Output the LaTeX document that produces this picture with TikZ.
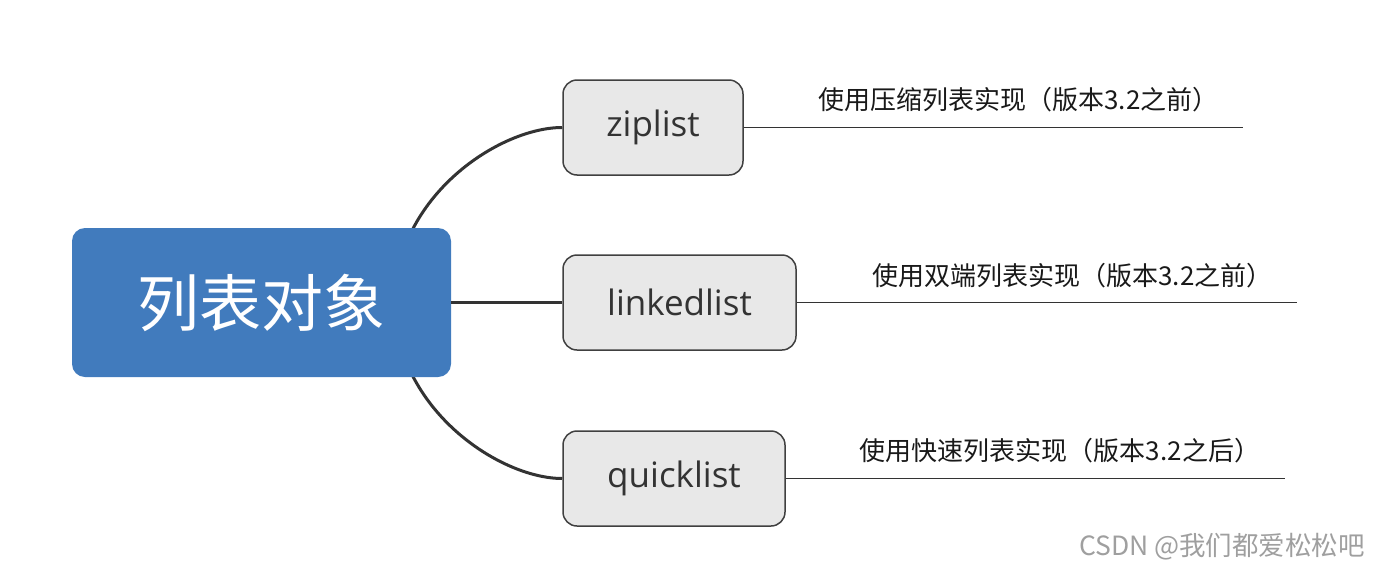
\documentclass[tikz,border=0pt]{standalone}
\usepackage{fontspec}
\setmainfont{Open Sans}
\newfontfamily\cjk{Noto Sans CJK SC}
\usetikzlibrary{backgrounds}
\definecolor{mainblue}{HTML}{417BBD}
\definecolor{boxgray}{HTML}{E8E8E8}
\definecolor{edgegray}{HTML}{404040}
\definecolor{linegray}{HTML}{333333}
\definecolor{textgray}{HTML}{333333}
\begin{document}
\begin{tikzpicture}[x=1pt,y=-1pt,
  rootbox/.style={fill=mainblue, rounded corners=13pt, minimum width=379pt, minimum height=149pt, inner sep=0pt, text=white, font=\cjk\fontsize{62}{70}\selectfont},
  subbox/.style={fill=boxgray, draw=edgegray, line width=1.5pt, rounded corners=14pt, minimum height=95pt, inner sep=0pt, font=\fontsize{35}{40}\selectfont, text=textgray},
  branch/.style={draw=linegray, line width=3pt},
  leaf/.style={draw=linegray, line width=1.9pt},
  note/.style={font=\cjk\fontsize{26}{30}\selectfont, text=black!90, inner sep=0pt}]
\useasboundingbox (0,0) rectangle (1382,576);
\node[rootbox] (root) at (261.5,302.5) {列表对象};
\node[subbox, minimum width=180pt] (zip) at (653,127.5) {ziplist};
\node[subbox, minimum width=233pt] (linked) at (679.5,302.5) {linkedlist};
\node[subbox, minimum width=222pt] (quick) at (674,478.5) {quicklist};
\coordinate (hub) at (394,302.5);
\coordinate (zipend) at (1243,127.5);
\coordinate (linkedend) at (1297,302.5);
\coordinate (quickend) at (1285,478.5);
\begin{scope}[on background layer]
  \draw[branch] (hub) .. controls (396,195) and (500,127.5) .. (zip.west);
  \draw[branch] (hub) .. controls (396,410) and (500,478.5) .. (quick.west);
\end{scope}
\draw[branch] (root.east) -- (linked.west);
\draw[leaf] (zip.east) -- (zipend);
\draw[leaf] (linked.east) -- (linkedend);
\draw[leaf] (quick.east) -- (quickend);
\node[note] (zipnote) at (1018.5,100) {使用压缩列表实现（版本3.2之前）};
\node[note] (linkednote) at (1072.5,276) {使用双端列表实现（版本3.2之前）};
\node[note] (quicknote) at (1060,451) {使用快速列表实现（版本3.2之后）};
\node[font=\cjk\fontsize{26.5}{30}\selectfont, text=gray!75, inner sep=0pt] (wm) at (1222,547) {CSDN @我们都爱松松吧};
\end{tikzpicture}
\end{document}
